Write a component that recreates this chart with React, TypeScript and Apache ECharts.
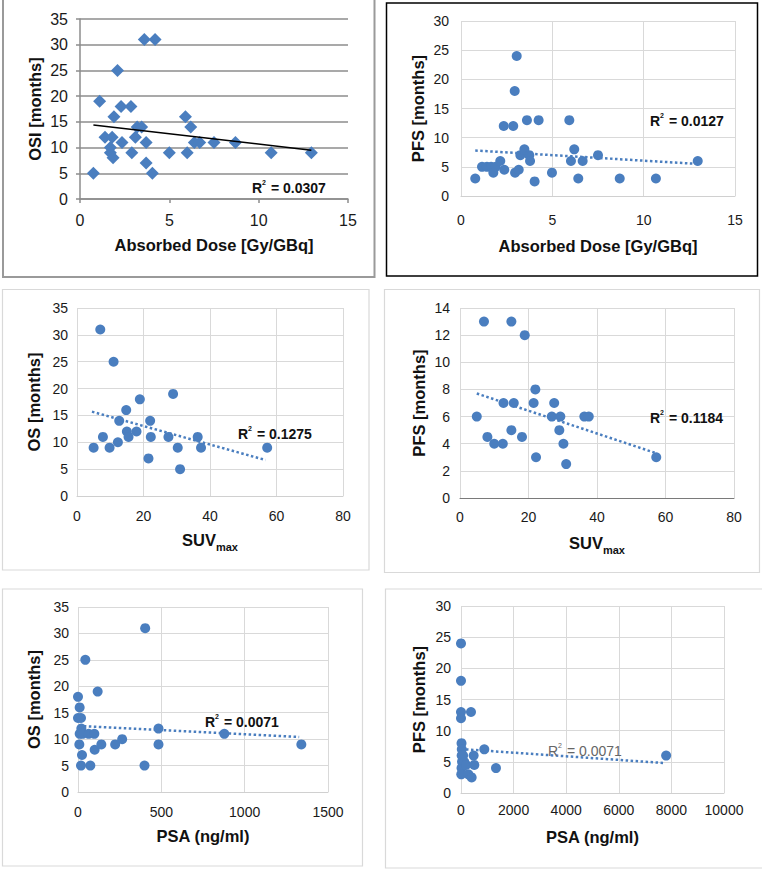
import React, { useEffect, useRef } from "react";
import * as echarts from "echarts";

// Panel A: Absorbed dose vs OS
const doseOsX = [0.75, 1.1, 1.4, 1.8, 1.7, 1.7, 1.85, 1.9, 2.1, 2.3, 2.35, 2.85, 2.9, 3.1, 3.2, 3.45, 3.6, 4.2, 3.7, 3.7, 4.05, 5.0, 5.9, 6.0, 6.2, 6.4, 6.7, 7.5, 8.7, 10.7, 12.95];
const doseOsY = [5, 19, 12, 12, 10, 9, 8, 16, 25, 18, 11, 18, 9, 12, 14, 14, 31, 31, 11, 7, 5, 9, 16, 9, 14, 11, 11, 11, 11, 9, 9];
const doseOsTrendX = [0.75, 12.95];
const doseOsTrendY = [14.4, 9.5];

// Panel B: Absorbed dose vs PFS
const dosePfsX = [0.78, 1.15, 1.42, 1.65, 1.9, 1.77, 2.15, 2.34, 2.37, 2.86, 2.94, 3.05, 2.96, 3.16, 3.25, 3.47, 3.61, 3.74, 3.78, 4.03, 4.25, 4.98, 5.93, 6.02, 6.2, 6.42, 6.66, 7.5, 8.69, 10.67, 12.96];
const dosePfsY = [3, 5, 5, 5, 5, 4, 6, 12, 4.5, 12, 18, 24, 4, 4.5, 7, 8, 13, 7, 6, 2.5, 13, 4, 13, 6, 8, 3, 6, 7, 3, 3, 6];
const dosePfsTrendX = [0.78, 12.96];
const dosePfsTrendY = [7.8, 5.5];

// Panel C: SUVmax vs OS
const suvOsX = [5, 7, 7.8, 9.8, 11, 12.3, 12.7, 14.8, 15, 15.5, 17.9, 18.9, 21.5, 22, 22.2, 27.5, 28.9, 30.3, 31, 36.3, 37.3, 57.2];
const suvOsY = [9, 31, 11, 9, 25, 10, 14, 16, 12, 11, 12, 18, 7, 14, 11, 11, 19, 9, 5, 11, 9, 9];
const suvOsTrendX = [4.5, 56.7];
const suvOsTrendY = [15.7, 6.7];

// Panel D: SUVmax vs PFS
const suvPfsX = [4.9, 7, 8, 10, 12.5, 12.7, 15, 15, 15.7, 18.1, 18.9, 21.5, 22, 22.2, 26.8, 27.5, 29, 29.3, 30.2, 31, 36.3, 37.6, 57.3];
const suvPfsY = [6, 13, 4.5, 4, 4, 7, 13, 5, 7, 4.5, 12, 7, 8, 3, 6, 7, 5, 6, 4, 2.5, 6, 6, 3];
const suvPfsTrendX = [4.9, 57.3];
const suvPfsTrendY = [7.7, 3.3];

// Panel E: PSA vs OS
const psaOsX = [0, 10, 0, 18, 10, 8, 20, 28, 24, 18, 44, 64, 74, 98, 100, 118, 140, 223, 265, 399, 403, 483, 483, 878, 1340];
const psaOsY = [18, 16, 14, 14, 11, 9, 12, 11, 7, 5, 25, 11, 5, 11, 8, 19, 9, 9, 10, 5, 31, 12, 9, 11, 9];
const psaOsTrendX = [5, 1327];
const psaOsTrendY = [12.5, 10.4];

// Panel F: PSA vs PFS
const psaPfsX = [0, 0, 0, 0, 20, 30, 25, 40, 20, 10, 80, 120, 190, 280, 380, 405, 480, 506, 886, 1330, 7800];
const psaPfsY = [24, 18, 13, 12, 8, 7, 6, 5, 4, 3, 6, 5, 4.5, 3, 13, 2.5, 6, 4.5, 7, 4, 6];
const psaPfsTrendX = [0, 7750];
const psaPfsTrendY = [7.05, 4.8];

const r2Labels = ["0.0307", "0.0127", "0.1275", "0.1184", "0.0071", "0.0071"];

const FONT = "'Liberation Sans', Arial, Helvetica, sans-serif";
const BLUE = "#4a7ebf";

const zip = (xs: number[], ys: number[]) => xs.map((x, i) => [x, ys[i]]);

export default function App() {
  const ref = useRef<HTMLDivElement>(null);
  useEffect(() => {
    const chart = echarts.init(ref.current!, null, { renderer: "svg", width: 762, height: 870 });

    const grids = [
      { left: 80, top: 19, width: 268, height: 180 },
      { left: 461, top: 21, width: 274, height: 175 },
      { left: 77, top: 308, width: 266, height: 188 },
      { left: 460, top: 308, width: 274, height: 190 },
      { left: 78, top: 607, width: 250, height: 185 },
      { left: 461, top: 606, width: 263, height: 187 },
    ];

    const titleStyle = { fontFamily: FONT, fontSize: 16.5, fontWeight: "bold" as const, color: "#111" };
    const suvName = "{a|SUV}{b|max}";
    const suvRich = {
      a: { fontFamily: FONT, fontSize: 16.5, fontWeight: "bold", color: "#111", lineHeight: 20, verticalAlign: "bottom" },
      b: { fontFamily: FONT, fontSize: 11, fontWeight: "bold", color: "#111", lineHeight: 20, verticalAlign: "bottom", padding: [0, 0, -4, 0] },
    };

    const xSpecs = [
      { min: 0, max: 15, interval: 5, name: "Absorbed Dose [Gy/GBq]", gap: 37, margin: 13 },
      { min: 0, max: 15, interval: 5, name: "Absorbed Dose [Gy/GBq]", gap: 41, margin: 17 },
      { min: 0, max: 80, interval: 20, name: suvName, gap: 32, margin: 13 },
      { min: 0, max: 80, interval: 20, name: suvName, gap: 33, margin: 12 },
      { min: 0, max: 1500, interval: 500, name: "PSA (ng/ml)", gap: 35, margin: 13 },
      { min: 0, max: 10000, interval: 2000, name: "PSA (ng/ml)", gap: 35, margin: 10 },
    ];
    const ySpecs = [
      { min: 0, max: 35, interval: 5, name: "OSI [months]", gap: 37, margin: 12 },
      { min: 0, max: 30, interval: 5, name: "PFS [months]", gap: 35, margin: 12 },
      { min: 0, max: 35, interval: 5, name: "OS [months]", gap: 35, margin: 9 },
      { min: 0, max: 14, interval: 2, name: "PFS [months]", gap: 33, margin: 10 },
      { min: 0, max: 35, interval: 5, name: "OS [months]", gap: 36, margin: 9 },
      { min: 0, max: 30, interval: 5, name: "PFS [months]", gap: 34, margin: 10 },
    ];

    const plain = (v: number) => String(v);

    const xAxis = xSpecs.map((s, i) => {
      const first = i === 0;
      return {
        type: "value",
        gridIndex: i,
        min: s.min,
        max: s.max,
        interval: s.interval,
        name: s.name,
        nameLocation: "middle",
        nameGap: s.gap,
        nameTextStyle: s.name === suvName ? { rich: suvRich } : titleStyle,
        axisLine: {
          show: true,
          onZero: false,
          lineStyle: { color: first ? "#8c8c8c" : i === 3 ? "#7a7a7a" : "#d0d0d0", width: first ? 1.5 : 1 },
        },
        axisTick: { show: first, length: 4, lineStyle: { color: "#8c8c8c", width: 1.5 } },
        axisLabel: { fontFamily: FONT, fontSize: first ? 16 : 14, color: "#1a1a1a", margin: s.margin, formatter: plain },
        splitLine: { show: !first, lineStyle: { color: "#d9d9d9", width: 1 } },
      };
    });

    const yAxis = ySpecs.map((s, i) => {
      const first = i === 0;
      return {
        type: "value",
        gridIndex: i,
        min: s.min,
        max: s.max,
        interval: s.interval,
        name: s.name,
        nameLocation: "middle",
        nameGap: s.gap,
        nameTextStyle: titleStyle,
        axisLine: { show: first, onZero: false, lineStyle: { color: "#8c8c8c", width: 1.5 } },
        axisTick: { show: first, length: 4, lineStyle: { color: "#8c8c8c", width: 1.5 } },
        axisLabel: { fontFamily: FONT, fontSize: first ? 16 : 14, color: "#1a1a1a", margin: s.margin, formatter: plain },
        splitLine: { show: true, lineStyle: { color: first ? "#8c8c8c" : "#d9d9d9", width: first ? 1.5 : 1 } },
      };
    });

    const scatterData = [
      zip(doseOsX, doseOsY),
      zip(dosePfsX, dosePfsY),
      zip(suvOsX, suvOsY),
      zip(suvPfsX, suvPfsY),
      zip(psaOsX, psaOsY),
      zip(psaPfsX, psaPfsY),
    ];
    const trendData = [
      zip(doseOsTrendX, doseOsTrendY),
      zip(dosePfsTrendX, dosePfsTrendY),
      zip(suvOsTrendX, suvOsTrendY),
      zip(suvPfsTrendX, suvPfsTrendY),
      zip(psaOsTrendX, psaOsTrendY),
      zip(psaPfsTrendX, psaPfsTrendY),
    ];

    const series: any[] = [];
    scatterData.forEach((d, i) => {
      series.push({
        type: "scatter",
        xAxisIndex: i,
        yAxisIndex: i,
        data: d,
        symbol: i === 0 ? "diamond" : "circle",
        symbolSize: i === 0 ? 13 : 10,
        itemStyle: { color: BLUE, opacity: 1 },
        z: 3,
      });
    });
    trendData.forEach((d, i) => {
      series.push({
        type: "line",
        xAxisIndex: i,
        yAxisIndex: i,
        data: d,
        showSymbol: false,
        symbol: "none",
        lineStyle:
          i === 0
            ? { color: "#000", width: 1.5, type: "solid" }
            : { color: BLUE, width: 2.5, type: [2.5, 2.5] },
        z: 4,
      });
    });

    const r2Pos = [
      { x: 252, y: 187, bold: true, color: "#111" },
      { x: 650, y: 120, bold: true, color: "#111" },
      { x: 238, y: 433, bold: true, color: "#111" },
      { x: 650, y: 417, bold: true, color: "#111" },
      { x: 205, y: 721, bold: true, color: "#111" },
      { x: 548, y: 750, bold: false, color: "#666" },
    ];

    const r2Graphics = r2Pos.map((p, i) => ({
      type: "text",
      x: p.x,
      y: p.y,
      z: 10,
      style: {
        text: `{r|R}{s|2}{r| = ${r2Labels[i]}}`,
        verticalAlign: "middle",
        align: "left",
        rich: {
          r: { fontFamily: FONT, fontSize: 14, fontWeight: p.bold ? "bold" : "normal", fill: p.color, color: p.color, lineHeight: 16, verticalAlign: "bottom" },
          s: { fontFamily: FONT, fontSize: 7, fontWeight: p.bold ? "bold" : "normal", fill: p.color, color: p.color, lineHeight: 16, verticalAlign: "top", padding: [0, 1, 0, 0] },
        },
      },
    }));

    const boxes = [
      { x: 3, y: -5, w: 371.5, h: 282, stroke: "#9a9a9a", lw: 2 },
      { x: 386.5, y: 3, w: 371, h: 273, stroke: "#000", lw: 1.5 },
      { x: 2.5, y: 289.5, w: 366.5, h: 280.5, stroke: "#d9d9d9", lw: 1.2 },
      { x: 384.5, y: 289.5, w: 375, h: 283, stroke: "#d9d9d9", lw: 1.2 },
      { x: 2.5, y: 589, w: 360, h: 277, stroke: "#d9d9d9", lw: 1.2 },
      { x: 385.5, y: 589, w: 380, h: 279, stroke: "#d9d9d9", lw: 1.2 },
    ];
    const boxGraphics = boxes.map((b) => ({
      type: "rect",
      z: 0,
      shape: { x: b.x, y: b.y, width: b.w, height: b.h },
      style: { fill: "none", stroke: b.stroke, lineWidth: b.lw },
    }));

    chart.setOption({
      animation: false,
      backgroundColor: "#fff",
      textStyle: { fontFamily: FONT },
      grid: grids.map((g) => ({ ...g, containLabel: false })),
      xAxis,
      yAxis,
      series,
      graphic: [...boxGraphics, ...r2Graphics],
    });

    return () => chart.dispose();
  }, []);
  return (
    <div
      ref={ref}
      style={{ position: "absolute", left: 0, top: 0, width: 762, height: 870, background: "#fff" }}
    />
  );
}
